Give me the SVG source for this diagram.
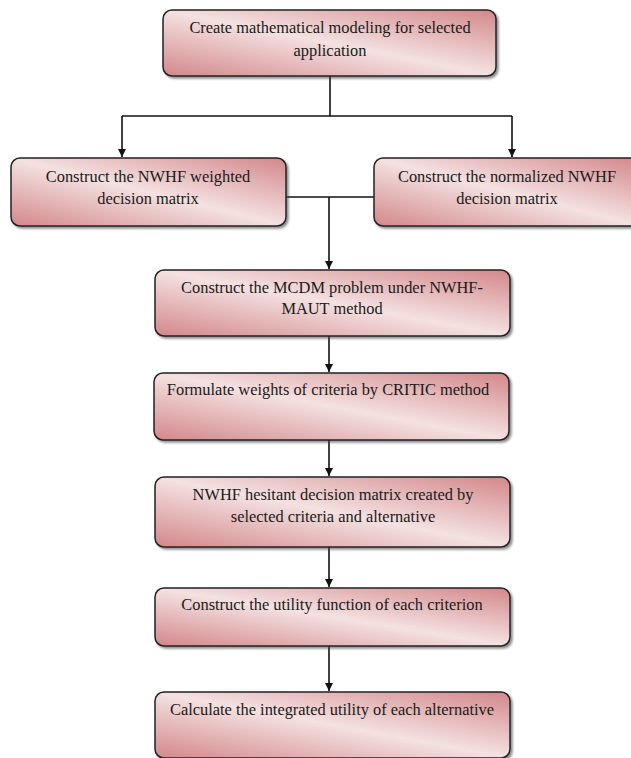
<svg xmlns="http://www.w3.org/2000/svg" width="631" height="758" viewBox="0 0 631 758">
<defs>
<linearGradient id="g" x1="0" y1="1" x2="1" y2="0">
<stop offset="0" stop-color="#d3878a"/>
<stop offset="0.5" stop-color="#f4e1e1"/>
<stop offset="1" stop-color="#d3878a"/>
</linearGradient>
<filter id="sh" x="-5%" y="-10%" width="115%" height="130%">
<feDropShadow dx="2" dy="2" stdDeviation="1" flood-color="#444" flood-opacity="0.6"/>
</filter>
<marker id="ah" viewBox="0 0 8 8" refX="8" refY="4" markerWidth="8" markerHeight="8" markerUnits="userSpaceOnUse" orient="auto">
<path d="M0,0 L8,4 L0,8 Z" fill="#111"/>
</marker>
</defs>
<style>
.box{fill:url(#g);stroke:#222;stroke-width:1.5;filter:url(#sh)}
.t{font-family:"Liberation Serif","Times New Roman",serif;font-size:16.4px;fill:#1a1a1a;text-anchor:middle}
.c{fill:none;stroke:#111;stroke-width:1.6}
</style>
<g id="connectors">
<path class="c" d="M330,76 V116"/>
<path class="c" d="M122,116 H512"/>
<path class="c" d="M122,116 V157" marker-end="url(#ah)"/>
<path class="c" d="M512,116 V157" marker-end="url(#ah)"/>
<path class="c" d="M286,197 H374"/>
<path class="c" d="M329,197 V269" marker-end="url(#ah)"/>
<path class="c" d="M329,336 V372" marker-end="url(#ah)"/>
<path class="c" d="M329,440 V476" marker-end="url(#ah)"/>
<path class="c" d="M329,547 V587" marker-end="url(#ah)"/>
<path class="c" d="M329,646 V691" marker-end="url(#ah)"/>
</g>
<g id="n1">
<rect class="box" x="163" y="10" width="333" height="66" rx="9"/>
<text class="t" x="330" y="33">Create mathematical modeling for selected</text>
<text class="t" x="330" y="56">application</text>
</g>
<g id="n2">
<rect class="box" x="11" y="158" width="275" height="68" rx="9"/>
<text class="t" x="148" y="182">Construct the NWHF weighted</text>
<text class="t" x="148" y="204">decision matrix</text>
</g>
<g id="n3">
<rect class="box" x="374" y="158" width="266" height="68" rx="9"/>
<text class="t" x="507" y="182">Construct the normalized NWHF</text>
<text class="t" x="507" y="204">decision matrix</text>
</g>
<g id="n4">
<rect class="box" x="155" y="270" width="355" height="66" rx="9"/>
<text class="t" x="332" y="293">Construct the MCDM problem under NWHF-</text>
<text class="t" x="332" y="314">MAUT method</text>
</g>
<g id="n5">
<rect class="box" x="154" y="373" width="355" height="67" rx="9"/>
<text class="t" x="328" y="395">Formulate weights of criteria by CRITIC method</text>
</g>
<g id="n6">
<rect class="box" x="155" y="477" width="355" height="70" rx="9"/>
<text class="t" x="333" y="500">NWHF hesitant decision matrix created by</text>
<text class="t" x="333" y="522">selected criteria and alternative</text>
</g>
<g id="n7">
<rect class="box" x="155" y="588" width="355" height="58" rx="9"/>
<text class="t" x="332" y="610">Construct the utility function of each criterion</text>
</g>
<g id="n8">
<rect class="box" x="155" y="692" width="355" height="66" rx="9"/>
<text class="t" x="332" y="715">Calculate the integrated utility of each alternative</text>
</g>
</svg>
